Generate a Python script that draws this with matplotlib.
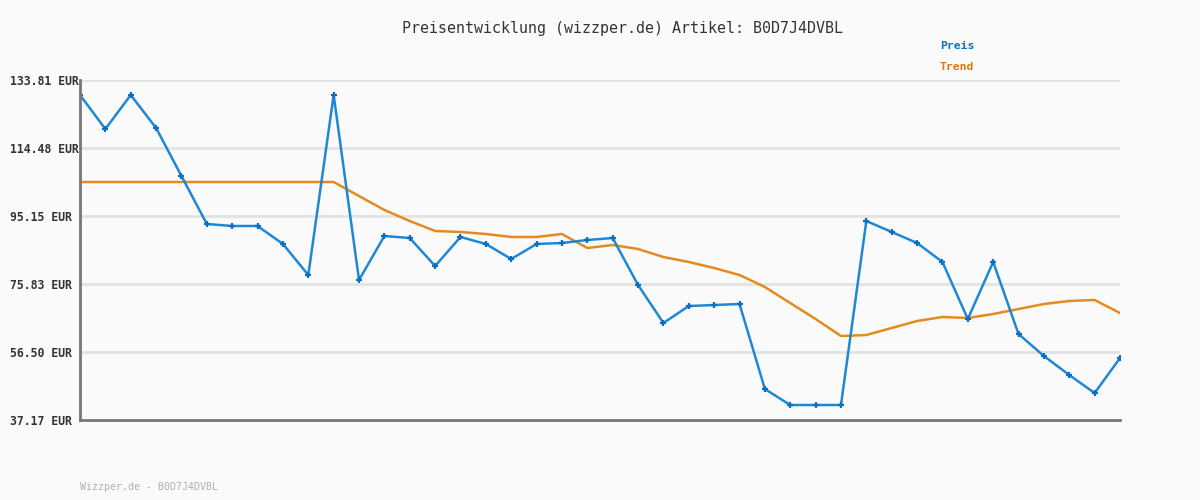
import matplotlib
matplotlib.use("Agg")
import matplotlib.pyplot as plt
import numpy as np

# price history (EUR)
preis = [129.55, 119.88, 129.55, 120.17, 106.52, 92.88, 92.31, 92.31, 87.20, 78.38,
         129.55, 76.96, 89.47, 88.90, 80.94, 89.19, 87.20, 82.93, 87.20, 87.48,
         88.33, 88.90, 75.54, 64.74, 69.57, 69.85, 70.14, 45.98, 41.43, 41.43,
         41.43, 93.73, 90.61, 87.48, 82.08, 65.88, 82.08, 61.61, 55.36, 49.96,
         44.84, 54.79]
trend = [104.82, 104.82, 104.82, 104.82, 104.82, 104.82, 104.82, 104.82, 104.82, 104.82,
         104.82, 100.84, 96.86, 93.73, 90.89, 90.61, 90.04, 89.19, 89.19, 90.04,
         86.06, 86.91, 85.77, 83.50, 82.08, 80.37, 78.38, 74.97, 70.42, 65.88,
         61.05, 61.33, 63.32, 65.31, 66.45, 66.16, 67.30, 68.72, 70.14, 71.00,
         71.28, 67.58]
y_ticks = [37.17, 56.50, 75.83, 95.15, 114.48, 133.81]
artikel = "B0D7J4DVBL"

bg = "#fafafa"
blue = "#1f88d4"
orange = "#e38b1f"

fig = plt.figure(figsize=(12, 5), dpi=100, facecolor=bg)
ax = fig.add_axes([80 / 1200, 80 / 500, 1040 / 1200, 340 / 500], facecolor=bg)

x = np.arange(len(preis))
ax.plot(x, trend, color=orange, lw=1.8, zorder=3)
ax.plot(x, preis, color=blue, lw=1.8, zorder=4,
        marker="+", ms=5, mew=1.6, mec="#0a6fc0")

ax.set_xlim(0, len(preis) - 1)
ax.set_ylim(y_ticks[0], y_ticks[-1])
ax.set_yticks(y_ticks)
ax.set_yticklabels(["%.2f EUR" % v for v in y_ticks])
ax.set_xticks([])
for v in y_ticks[1:]:
    ax.axhline(v, color="#e3e3e3", lw=2, zorder=1)

ax.tick_params(axis="y", length=0, pad=50.4)
for lbl in ax.get_yticklabels():
    lbl.set_ha("left")
    lbl.set_family("DejaVu Sans Mono")
    lbl.set_weight("bold")
    lbl.set_fontsize(8.3)
    lbl.set_color("#333333")

for s in ["top", "right"]:
    ax.spines[s].set_visible(False)
for s in ["left", "bottom"]:
    ax.spines[s].set_color("#777777")
    ax.spines[s].set_linewidth(2)
    ax.spines[s].set_zorder(5)

fig.text(623 / 1200, 1 - 28 / 500, "Preisentwicklung (wizzper.de) Artikel: " + artikel,
         ha="center", va="center", family="DejaVu Sans Mono", fontsize=10.8, color="#333333")
fig.text(940 / 1200, 1 - 46 / 500, "Preis", ha="left", va="center",
         family="DejaVu Sans Mono", weight="bold", fontsize=8.2, color="#0077cc")
fig.text(940 / 1200, 1 - 67 / 500, "Trend", ha="left", va="center",
         family="DejaVu Sans Mono", weight="bold", fontsize=8.2, color="#dd7711")
fig.text(80 / 1200, 1 - 487 / 500, "Wizzper.de - " + artikel, ha="left", va="center",
         family="DejaVu Sans Mono", fontsize=7.2, color="#b0b0b0")

fig.savefig("out.png", dpi=100, facecolor=bg)
